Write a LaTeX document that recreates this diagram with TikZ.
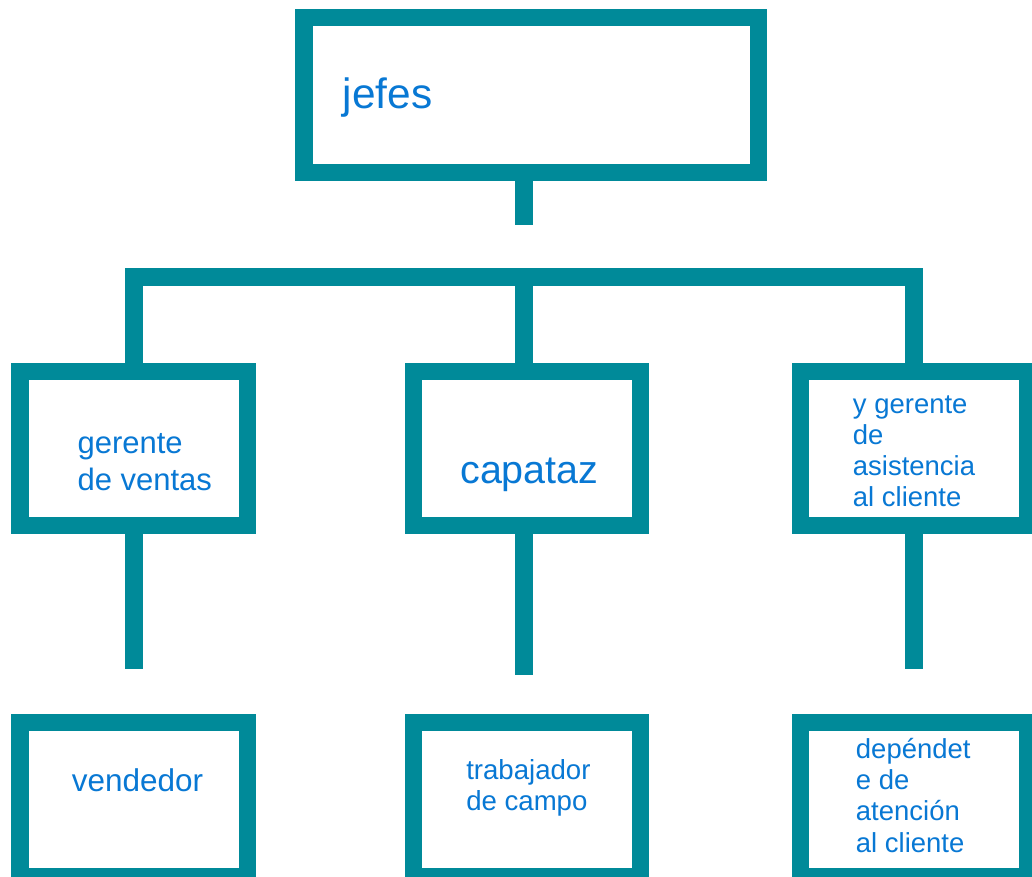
\documentclass[tikz,border=0pt]{standalone}
\usepackage{fontspec}
\setmainfont{Liberation Sans}
\usetikzlibrary{backgrounds}
\definecolor{teal1}{RGB}{0,138,153}
\definecolor{txtblue}{RGB}{8,120,212}
\begin{document}
\begin{tikzpicture}[x=0.75pt,y=-0.75pt,
  box/.style={draw=teal1,line width=13.1pt,rectangle,inner sep=0pt,fill=white},
  midbox/.style={box,minimum width=170.4pt,minimum height=115.6pt},
  topbox/.style={box,minimum width=340.9pt,minimum height=115.9pt},
  conn/.style={draw=teal1,line width=13.1pt},
  lbl/.style={text=txtblue,anchor=base west,inner sep=0pt,align=left}]
\useasboundingbox (0,0) rectangle (1032,877);
% boxes
\node[topbox] (jefes) at (531.25,95) {};
\node[midbox] (ger) at (133.65,448.5) {};
\node[midbox] (cap) at (527,448.5) {};
\node[midbox] (asis) at (913.95,448.5) {};
\node[midbox] (ven) at (133.65,799.4) {};
\node[midbox] (trab) at (527,799.4) {};
\node[midbox] (dep) at (913.95,799.4) {};
% free ends
\coordinate (stemtop) at (523.9,225.3);
\coordinate (barl) at (133.9,277);
\coordinate (barm) at (523.9,277);
\coordinate (barr) at (914,277);
\coordinate (endl) at (133.9,669.3);
\coordinate (endm) at (523.9,675);
\coordinate (endr) at (914,669.3);
% connectors
\begin{scope}[on background layer]
\draw[conn] (jefes.center -| stemtop) -- (stemtop);
\draw[conn] (ger.center -| barl) -- (barl) -- (barr) -- (asis.center -| barr);
\draw[conn] (barm) -- (cap.center -| barm);
\draw[conn] (ger.center -| endl) -- (endl);
\draw[conn] (cap.center -| endm) -- (endm);
\draw[conn] (asis.center -| endr) -- (endr);
\end{scope}
% labels (anchored at baseline of last line)
\node[lbl,font=\fontsize{31.8pt}{36pt}\selectfont] (tj) at (342.7,108.3) {jefes};
\node[lbl,font=\fontsize{23.25pt}{27.5pt}\selectfont] (tg) at (77.3,490) {gerente\\de ventas};
\node[lbl,font=\fontsize{29.6pt}{34pt}\selectfont] (tc) at (460,483.3) {capataz};
\node[lbl,font=\fontsize{20.6pt}{23.25pt}\selectfont] (ta) at (852.7,506.7) {y gerente\\de\\asistencia\\al cliente};
\node[lbl,font=\fontsize{23.6pt}{27pt}\selectfont] (tv) at (71.7,791.7) {vendedor};
\node[lbl,font=\fontsize{20.7pt}{23pt}\selectfont] (tt) at (466,810) {trabajador\\de campo};
\node[lbl,font=\fontsize{20.6pt}{23.5pt}\selectfont] (td) at (855.7,852.3) {depéndet\\e de\\atención\\al cliente};
\end{tikzpicture}
\end{document}
